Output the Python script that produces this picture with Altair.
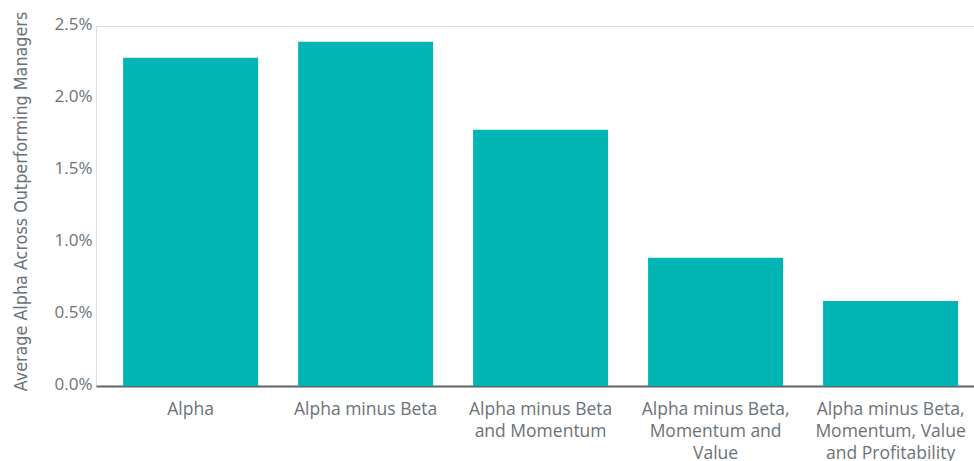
import altair as alt
import pandas as pd

categories = [
    "Alpha",
    "Alpha minus Beta",
    "Alpha minus Beta|and Momentum",
    "Alpha minus Beta,|Momentum and|Value",
    "Alpha minus Beta,|Momentum, Value|and Profitability",
]
values = [2.28, 2.39, 1.78, 0.89, 0.59]
y_ticks = [0.0, 0.5, 1.0, 1.5, 2.0, 2.5]

df = pd.DataFrame({"category": categories, "value": values})

TEXT = "#6b7278"
FONT = "Open Sans"

chart = (
    alt.Chart(df)
    .mark_bar(color="#00b5b3")
    .encode(
        x=alt.X(
            "category:N",
            sort=categories,
            scale=alt.Scale(paddingInner=0.2286, paddingOuter=0.123, align=0.63),
            axis=alt.Axis(
                title=None,
                labelAngle=0,
                labelExpr="split(datum.label, '|')",
                labelFont=FONT,
                labelFontSize=17.5,
                labelColor=TEXT,
                labelPadding=14,
                labelLineHeight=22,
                ticks=False,
                domainColor="#5f656b",
                domainWidth=2,
            ),
        ),
        y=alt.Y(
            "value:Q",
            scale=alt.Scale(domain=[0, 2.5], nice=False),
            axis=alt.Axis(
                title="Average Alpha Across Outperforming Managers",
                titleFont="DejaVu Sans Condensed",
                titleFontSize=17.8,
                titleFontWeight="normal",
                titleColor=TEXT,
                titleAngle=-90,
                titleX=-75,
                titleY=175,
                titleBaseline="middle",
                values=y_ticks,
                labelExpr="format(datum.value, '.1f') + '%'",
                labelFont=FONT,
                labelFontSize=17,
                labelColor=TEXT,
                labelPadding=4,
                labelOffset=-2,
                ticks=False,
                domain=False,
                grid=False,
            ),
        ),
    )
    .properties(
        width=878,
        height=360,
        autosize=alt.AutoSizeParams(type="none"),
        padding={"left": 96, "top": 26, "right": 0, "bottom": 75},
    )
    .configure_view(fill="#f5f7f7", stroke=None)
    .configure(background="white")
)

chart.save("out.html", embed_options={"renderer": "svg", "actions": False})
